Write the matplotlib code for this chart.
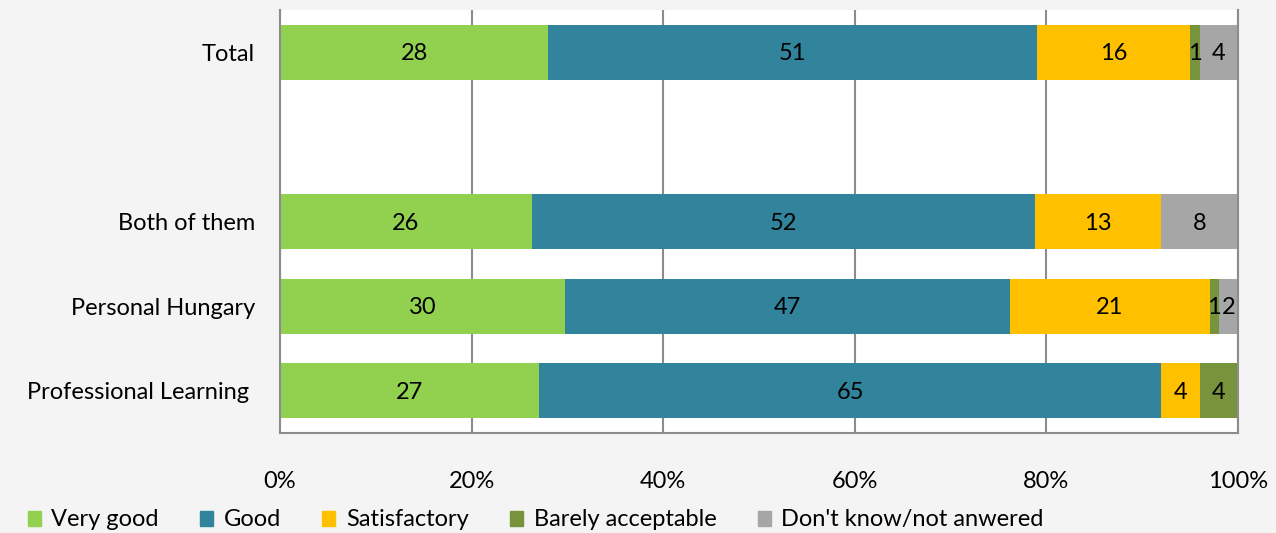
import numpy as np
import matplotlib.pyplot as plt
from matplotlib.patches import Patch

plt.rcParams['font.family'] = ['Lato', 'DejaVu Sans']

# rows from top to bottom; the empty row leaves a gap under "Total"
groups = ["Total", "", "Both of them", "Personal Hungary", "Professional Learning "]
answers = ["Very good", "Good", "Satisfactory", "Barely acceptable", "Don't know/not anwered"]
colors = ["#92D050", "#31849B", "#FFC000", "#77933C", "#A6A6A6"]

very_good = [28, 0, 26, 30, 27]
good = [51, 0, 52, 47, 65]
satisfactory = [16, 0, 13, 21, 4]
barely = [1, 0, 0, 1, 4]
dont_know = [4, 0, 8, 2, 0]

vals = np.array([very_good, good, satisfactory, barely, dont_know], dtype=float)
tot = vals.sum(axis=0)
tot[tot == 0] = 1
share = vals / tot * 100

fs = 17
fig = plt.figure(figsize=(12.76, 5.33), dpi=100, facecolor="#F4F4F4")
ax = fig.add_axes([280/1276, 100/533, 958/1276, 423/533])
ax.set_facecolor("white")

y = np.arange(len(groups))
left = np.zeros(len(groups))
for i in range(len(answers)):
    bars = ax.barh(y, share[i], left=left, height=0.65, color=colors[i], label=answers[i], zorder=2)
    for j, b in enumerate(bars):
        if vals[i, j] > 0:
            ax.text(left[j] + share[i, j]/2, y[j] + 0.02, "%d" % vals[i, j], ha="center", va="center",
                    fontsize=fs, color="black", zorder=3)
    left += share[i]

ax.set_xlim(0, 100)
ax.set_ylim(len(groups) - 0.5, -0.5)
ax.set_yticks(y)
ax.set_yticklabels(groups, fontsize=fs)
ax.set_xticks(range(0, 101, 20))
ax.set_xticklabels(["%d%%" % v for v in range(0, 101, 20)], fontsize=fs)
ax.tick_params(axis="both", length=0)
ax.tick_params(axis="x", pad=27)
ax.tick_params(axis="y", pad=18)
ax.grid(axis="x", color="#8C8C8C", lw=1.5, zorder=1)
for s in ["left", "bottom", "right"]:
    ax.spines[s].set_color("#8C8C8C")
    ax.spines[s].set_linewidth(1.5)
ax.spines["top"].set_visible(False)

handles = [Patch(color=c) for c in colors]
fig.legend(handles, answers, loc="lower left", bbox_to_anchor=(0.005, -0.035), ncol=5,
           frameon=False, fontsize=fs, handlelength=0.55, handleheight=0.6,
           handletextpad=0.45, columnspacing=1.75)

fig.savefig("out.png", dpi=100, facecolor=fig.get_facecolor())
